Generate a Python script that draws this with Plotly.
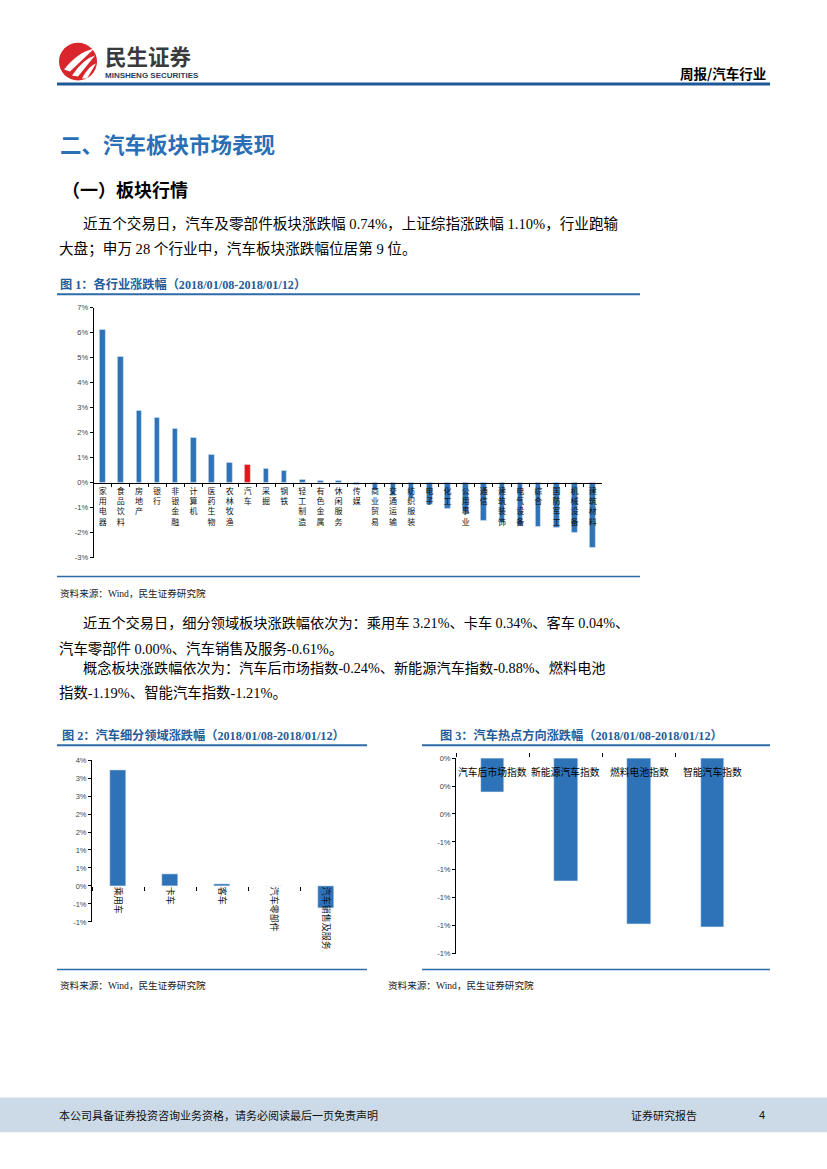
import plotly.graph_objects as go

W, H = 827, 1169

# ---------------- data ----------------
industries = ["家用电器", "食品饮料", "房地产", "银行", "非银金融", "计算机", "医药生物", "农林牧渔",
              "汽车", "采掘", "钢铁", "轻工制造", "有色金属", "休闲服务", "传媒", "商业贸易",
              "交通运输", "纺织服装", "电子", "化工", "公用事业", "通信", "建筑装饰", "电气设备",
              "综合", "国防军工", "机械设备", "建筑材料"]
industry_chg = [6.13, 5.03, 2.88, 2.60, 2.17, 1.81, 1.14, 0.82,
                0.74, 0.58, 0.48, 0.13, 0.09, 0.09, -0.07, -0.29,
                -0.50, -0.62, -0.86, -1.05, -1.17, -1.50, -1.60, -1.72,
                -1.76, -1.81, -1.99, -2.59]
fig1_ticks = [7, 6, 5, 4, 3, 2, 1, 0, -1, -2, -3]
fig1_ticklabels = ["7%", "6%", "5%", "4%", "3%", "2%", "1%", "0%", "-1%", "-2%", "-3%"]

segments = ["乘用车", "卡车", "客车", "汽车零部件", "汽车销售及服务"]
segment_chg = [3.21, 0.34, 0.04, 0.00, -0.61]
fig2_ticks = [3.5, 3.0, 2.5, 2.0, 1.5, 1.0, 0.5, 0.0, -0.5, -1.0]
fig2_ticklabels = ["4%", "3%", "3%", "2%", "2%", "1%", "1%", "0%", "-1%", "-1%"]

themes = ["汽车后市场指数", "新能源汽车指数", "燃料电池指数", "智能汽车指数"]
theme_chg = [-0.24, -0.88, -1.19, -1.21]
fig3_ticks = [0.0, -0.2, -0.4, -0.6, -0.8, -1.0, -1.2, -1.4]
fig3_ticklabels = ["0%", "0%", "0%", "-1%", "-1%", "-1%", "-1%", "-1%"]

highlight = "汽车"

# ---------------- styles ----------------
BLUE = "#2E73B8"
RED = "#E8141B"
LINE_BLUE = "#1F5C99"
CJK = "Noto Sans CJK SC"
BODY = "Liberation Serif, Noto Sans CJK SC"


def px(x):
    return x / W


def py(y):
    return 1 - y / H


fig = go.Figure()

# Figure 1
fig.add_bar(
    x=["<br>".join(s) for s in industries], y=industry_chg,
    marker_color=[RED if s == highlight else BLUE for s in industries],
    width=0.31, xaxis="x", yaxis="y", hoverinfo="skip")
# Figure 2
fig.add_bar(x=segments, y=segment_chg, marker_color=BLUE, width=0.31,
            xaxis="x2", yaxis="y2", hoverinfo="skip")
# Figure 3
fig.add_bar(x=themes, y=theme_chg, marker_color=BLUE, width=0.32,
            xaxis="x3", yaxis="y3", hoverinfo="skip")

tickfont_y = dict(family="Liberation Sans Narrow, Liberation Sans", size=7.5, color="#444")

fig.update_layout(
    width=W, height=H, margin=dict(l=0, r=0, t=0, b=0),
    paper_bgcolor="white", plot_bgcolor="white", showlegend=False,
    bargap=0,
    xaxis=dict(domain=[px(93.6), px(601.8)], anchor="free", position=py(482.7),
               type="category", showline=True, linecolor="#000", linewidth=1,
               ticks="outside", tickson="boundaries", ticklen=3, tickcolor="#000",
               tickfont=dict(family=CJK, size=8, color="#111"), tickangle=0,
               showgrid=False, zeroline=False, fixedrange=True),
    yaxis=dict(domain=[py(558), py(306)], anchor="x", range=[-3, 7],
               tickvals=fig1_ticks, ticktext=fig1_ticklabels,
               showline=True, linecolor="#000", linewidth=1, ticks="outside",
               ticklen=3, tickcolor="#000", tickfont=tickfont_y,
               showgrid=False, zeroline=False, fixedrange=True),
    xaxis2=dict(domain=[px(92), px(352)], anchor="free", position=py(888.7),
                type="category", showline=False, ticks="outside",
                tickson="boundaries", ticklen=4, tickcolor="#000",
                tickfont=dict(family=CJK, size=9, color="#111"), tickangle=90,
                showgrid=False, zeroline=False, fixedrange=True),
    yaxis2=dict(domain=[py(925), py(762)], anchor="x2", range=[-1.0, 3.5],
                tickvals=fig2_ticks, ticktext=fig2_ticklabels,
                showline=True, linecolor="#000", linewidth=1, ticks="outside",
                ticklen=3, tickcolor="#000", tickfont=tickfont_y,
                showgrid=False, zeroline=False, fixedrange=True),
    xaxis3=dict(domain=[px(456), px(749)], anchor="y3", side="top",
                type="category", showline=False, ticks="outside",
                tickson="boundaries", ticklen=4, tickcolor="#000",
                showticklabels=False,
                showgrid=False, zeroline=False, fixedrange=True),
    yaxis3=dict(domain=[py(957), py(760)], anchor="x3", range=[-1.4, 0],
                tickvals=fig3_ticks, ticktext=fig3_ticklabels,
                showline=True, linecolor="#000", linewidth=1, ticks="outside",
                ticklen=3, tickcolor="#000", tickfont=tickfont_y,
                showgrid=False, zeroline=False, fixedrange=True),
)

# Figure 3 category labels, drawn on top of the bars just under the zero line
for name in themes:
    fig.add_annotation(x=name, y=0, xref="x3", yref="y3", text=name, showarrow=False,
                       yanchor="top", yshift=-5,
                       font=dict(family=CJK, size=9.8, color="#000"))

shapes = []


def hline(x0, x1, y, color=LINE_BLUE, w=2):
    shapes.append(dict(type="line", xref="paper", yref="paper",
                       x0=px(x0), x1=px(x1), y0=py(y), y1=py(y),
                       line=dict(color=color, width=w)))


# header rule
hline(57, 770, 80.5, "#1F5896", 3)
# figure 1 rules
hline(57, 640, 292.5, "#2E6BA8", 2)
hline(57, 640, 577, "#2E6BA8", 1.5)
# figure 2 / 3 rules
hline(57, 367, 747, "#2E6BA8", 2)
hline(57, 367, 973, "#2E6BA8", 1.5)
hline(422, 770, 747, "#2E6BA8", 2)
hline(422, 770, 973, "#2E6BA8", 1.5)

# footer band
shapes.append(dict(type="rect", xref="paper", yref="paper", x0=0, x1=1,
                   y0=py(1137), y1=py(1102), fillcolor="#CCDAE8", line=dict(width=0),
                   layer="below"))

# logo: red disc with white swooshes
shapes.append(dict(type="circle", xref="paper", yref="paper",
                   x0=px(59), x1=px(97), y0=py(77), y1=py(39),
                   fillcolor="#D9262C", line=dict(width=0)))


def path(points_px):
    s = ""
    for cmd, pts in points_px:
        s += cmd + " " + " ".join(f"{px(a):.5f},{py(b):.5f}" for a, b in pts) + " "
    return s + "Z"


for (a, b, c, d) in [((64, 66), (78, 48), (94, 45), (70, 68)),
                     ((72, 72), (84, 55), (95, 52), (78, 73)),
                     ((82, 75), (89, 62), (96, 60), (87, 75))]:
    shapes.append(dict(type="path", xref="paper", yref="paper",
                       path=path([("M", [a]), ("Q", [b, c]), ("L", [d])]),
                       fillcolor="white", line=dict(width=0)))

fig.update_layout(shapes=shapes)


def txt(x, y, s, size, color="#000", family=BODY, anchor="left"):
    fig.add_annotation(x=px(x), y=py(y), xref="paper", yref="paper", text=s,
                       showarrow=False, xanchor=anchor, yanchor="middle",
                       font=dict(family=family, size=size, color=color))


# header
txt(103, 52, "<b>民生证券</b>", 21.5, "#3A3A3A", CJK)
txt(103, 72, "<b>MINSHENG SECURITIES</b>", 8, "#2C3E5C", "Liberation Sans")
txt(768, 70, "<b>周报/汽车行业</b>", 13.5, "#000", CJK, "right")

# headings
txt(58, 141, "<b>二、汽车板块市场表现</b>", 21.5, "#2A6FB5", CJK)
txt(60, 186, "<b>（一）板块行情</b>", 18, "#000", CJK)

# paragraph 1
txt(81, 221, "近五个交易日，汽车及零部件板块涨跌幅 0.74%，上证综指涨跌幅 1.10%，行业跑输", 14.6)
txt(57, 247, "大盘；申万 28 个行业中，汽车板块涨跌幅位居第 9 位。", 14.6)

# figure 1 caption & source
txt(58, 283, "<b>图 1：各行业涨跌幅（2018/01/08-2018/01/12）</b>", 12.2, "#1F5C99")
txt(58, 594, "资料来源：Wind，民生证券研究院", 9.6, "#222")

# paragraph 2/3
txt(81, 624, "近五个交易日，细分领域板块涨跌幅依次为：乘用车 3.21%、卡车 0.34%、客车 0.04%、", 14.2)
txt(57, 650, "汽车零部件 0.00%、汽车销售及服务-0.61%。", 14.4)
txt(81, 669, "概念板块涨跌幅依次为：汽车后市场指数-0.24%、新能源汽车指数-0.88%、燃料电池", 14.2)
txt(57, 694, "指数-1.19%、智能汽车指数-1.21%。", 14.4)

# figure 2/3 captions & sources
txt(60, 737, "<b>图 2：汽车细分领域涨跌幅（2018/01/08-2018/01/12）</b>", 12.2, "#1F5C99")
txt(438, 737, "<b>图 3：汽车热点方向涨跌幅（2018/01/08-2018/01/12）</b>", 12.2, "#1F5C99")
txt(58, 989, "资料来源：Wind，民生证券研究院", 9.6, "#222")
txt(386, 989, "资料来源：Wind，民生证券研究院", 9.6, "#222")

# footer
txt(57, 1120, "本公司具备证券投资咨询业务资格，请务必阅读最后一页免责声明", 11, "#111", CJK)
txt(629, 1120, "证券研究报告", 11, "#111", CJK)
txt(767, 1120, "4", 11, "#111", "Liberation Sans", "right")

fig.write_html("out.html", config={"displayModeBar": False},
               post_script="document.body.style.margin='0px';")
